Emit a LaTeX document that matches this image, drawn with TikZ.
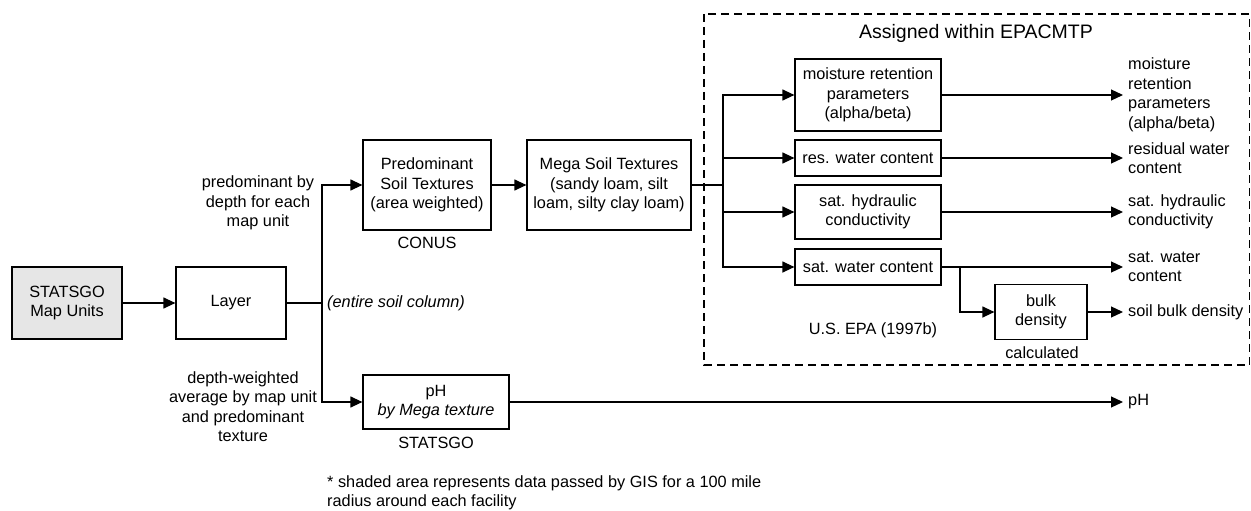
\documentclass[tikz,border=0pt]{standalone}
\usepackage{fontspec}
\setmainfont{Liberation Sans}
\usetikzlibrary{arrows.meta}
\definecolor{shade}{HTML}{E6E6E6}
\tikzset{
  txt/.style={font=\fontsize{16.3}{19.5}\selectfont, inner sep=0pt, align=center},
  box/.style={txt, draw, line width=1.2pt},
  outlbl/.style={txt, align=left, anchor=west, inner xsep=5pt},
  conn/.style={line width=1.2pt},
  arr/.style={conn, -{Triangle[length=12pt,width=11pt]}},
}
\begin{document}
\begin{tikzpicture}[x=1pt,y=-1pt]
\useasboundingbox (0,0) rectangle (1251,511);

% dashed frame of the model-assigned parameters
\draw[line width=1.2pt, dash pattern=on 8pt off 5pt] (704,14) rectangle (1249.5,365);
\node[txt, font=\fontsize{19.5}{22}\selectfont] (title) at (976,33) {Assigned within EPACMTP};

% main boxes
\node[box, fill=shade, minimum width=110pt, minimum height=72pt] (stats) at (67,303) {STATSGO\\Map Units};
\node[box, minimum width=110pt, minimum height=72pt] (layer) at (231,303) {Layer};
\node[box, minimum width=128pt, minimum height=90pt] (pred) at (427,185) {Predominant\\Soil Textures\\(area weighted)};
\node[box, minimum width=164pt, minimum height=90pt] (mega) at (609,185) {Mega Soil Textures\\(sandy loam, silt\\loam, silty clay loam)};
\node[box, minimum width=146pt, minimum height=54pt] (ph) at (436,402) {pH\\\textit{by Mega texture}};

\node[box, minimum width=146pt, minimum height=72pt] (moist) at (868,95) {moisture retention\\parameters\\(alpha/beta)};
\node[box, minimum width=146pt, minimum height=36pt] (res) at (868,158) {res. water content};
\node[box, minimum width=146pt, minimum height=54pt] (hyd) at (868,212) {sat. hydraulic\\conductivity};
\node[box, minimum width=146pt, minimum height=36pt] (satw) at (868,267) {sat. water content};
\node[box, minimum width=92pt, minimum height=55pt] (bulk) at (1041,312) {bulk\\density};

% captions
\node[txt] (lblpred) at (258,203) {predominant by\\depth for each\\map unit};
\node[txt] (lbldw) at (243,406.5) {depth-weighted\\average by map unit\\and predominant\\texture};
\node[txt, anchor=west] (lblcol) at (327,303) {\textit{(entire soil column)}};
\node[txt] (conus) at (427,243) {CONUS};
\node[txt] (src) at (436,443) {STATSGO};
\node[txt] (epa) at (873,330) {U.S. EPA (1997b)};
\node[txt] (calc) at (1042,353) {calculated};
\node[txt, align=left, anchor=west] (note) at (327,493) {* shaded area represents data passed by GIS for a 100 mile\\radius around each facility};

% outputs
\node[outlbl] (omoist) at (1123,95) {moisture\\retention\\parameters\\(alpha/beta)};
\node[outlbl] (ores) at (1123,158) {residual water\\content};
\node[outlbl] (ohyd) at (1123,212) {sat. hydraulic\\conductivity};
\node[outlbl] (osatw) at (1123,267) {sat. water\\content};
\node[outlbl] (obulk) at (1123,312) {soil bulk density};
\node[outlbl] (oph) at (1123,402) {pH};

% junction points
\coordinate (j1) at (322,303);
\coordinate (j2) at (723,185);
\coordinate (j3) at (960,267);

% connectors
\draw[arr] (stats) -- (layer);
\draw[conn] (layer.east) -- (j1);
\draw[arr] (j1) |- (pred.west);
\draw[arr] (j1) |- (ph.west);
\draw[arr] (pred) -- (mega);
\draw[line width=2pt] (mega.east) -- (j2);
\draw[arr] (j2) |- (moist.west);
\draw[arr] (j2) |- (res.west);
\draw[arr] (j2) |- (hyd.west);
\draw[arr] (j2) |- (satw.west);
\draw[arr] (moist.east) -- (omoist.west);
\draw[arr] (res.east) -- (ores.west);
\draw[arr] (hyd.east) -- (ohyd.west);
\draw[arr] (satw.east) -- (osatw.west);
\draw[arr] (j3) |- (bulk.west);
\draw[arr] (bulk.east) -- (obulk.west);
\draw[arr] (ph.east) -- (oph.west);
\end{tikzpicture}
\end{document}
